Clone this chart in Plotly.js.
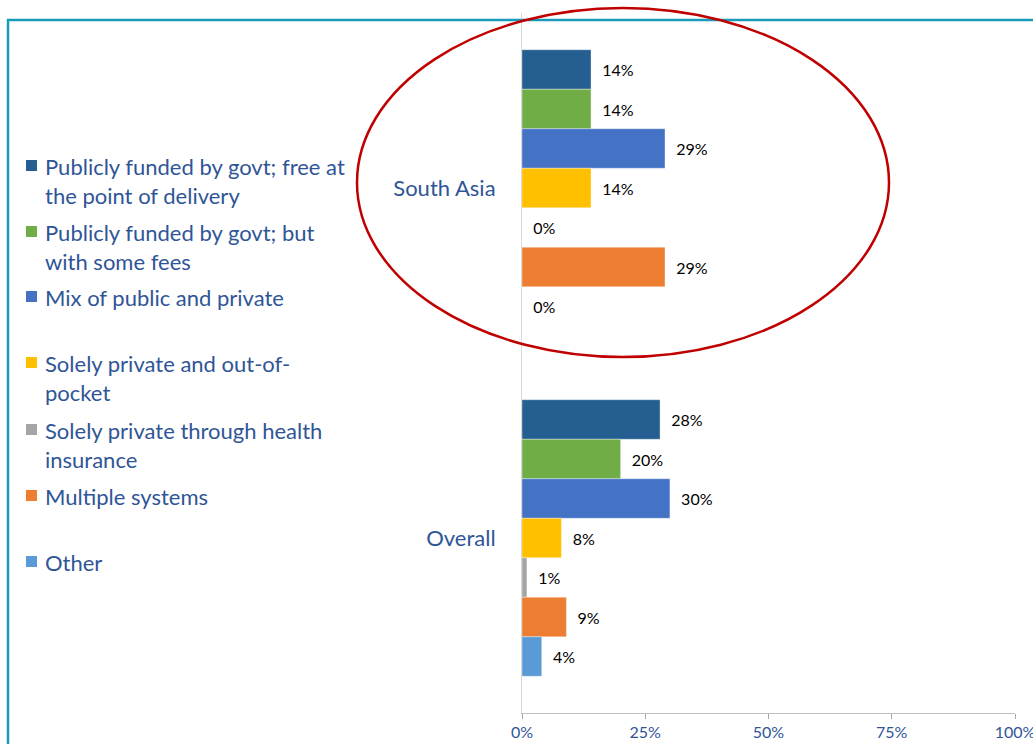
<!DOCTYPE html>
<html>
<head>
<meta charset="utf-8">
<script src="https://cdn.plot.ly/plotly-3.0.1.min.js"></script>
<style>html,body{margin:0;padding:0;background:#fff;}#chart{width:1033px;height:744px;}</style>
</head>
<body>
<div id="chart"></div>
<script>
// ---- data ----
var categories = ["South Asia", "Overall"];
var seriesNames = [
  "Publicly funded by govt; free at<br>the point of delivery",
  "Publicly funded by govt; but<br>with some fees",
  "Mix of public and private",
  "Solely private and out-of-<br>pocket",
  "Solely private through health<br>insurance",
  "Multiple systems",
  "Other"
];
var southAsia = [14, 14, 29, 14, 0, 29, 0];
var overall   = [28, 20, 30, 8, 1, 9, 4];
var seriesColors = ["#255E91", "#70AD47", "#4472C4", "#FFC000", "#A5A5A5", "#ED7D31", "#5B9BD5"];
var xTickVals = [0, 0.25, 0.5, 0.75, 1];
var xTickText = ["0%", "25%", "50%", "75%", "100%"];

// ---- layout helpers (pixel -> paper) ----
var W = 1033, H = 744;
var L = 522, R = 1015, T = 13, B = 713;
function px(x) { return (x - L) / (R - L); }
function py(y) { return (B - y) / (B - T); }

var FONT = "Lato, 'Open Sans', sans-serif";
var BLUE_TXT = "#2F5597";

var traces = seriesNames.map(function (name, i) {
  var vals = [southAsia[i], overall[i]];
  return {
    type: "bar",
    orientation: "h",
    name: name,
    y: categories,
    x: vals.map(function (v) { return v / 100; }),
    text: vals.map(function (v) { return "\u00a0\u00a0" + v + "%"; }),
    textposition: "outside",
    textfont: { family: FONT, size: 16, color: "#000" },
    cliponaxis: false,
    marker: { color: seriesColors[i], line: { color: "rgba(255,255,255,0.35)", width: 1 } },
    hoverinfo: "skip",
    showlegend: false
  };
});

// legend drawn as annotations + squares
var legendFirstLineY = [167, 233, 298, 364, 431, 497, 563];
var annotations = [];
var shapes = [];
seriesNames.forEach(function (name, i) {
  var yc = legendFirstLineY[i];
  annotations.push({
    xref: "paper", yref: "paper",
    x: px(43), y: py(yc - 16),
    xanchor: "left", yanchor: "top", align: "left",
    showarrow: false,
    text: name,
    font: { family: FONT, size: 22, color: BLUE_TXT }
  });
  shapes.push({
    type: "rect", xref: "paper", yref: "paper",
    x0: px(26), x1: px(37), y0: py(yc - 7), y1: py(yc + 4),
    fillcolor: seriesColors[i], line: { width: 0 }
  });
});

// frame lines
shapes.push({ type: "line", xref: "paper", yref: "paper", x0: px(7), x1: px(1040), y0: py(20), y1: py(20), line: { color: "#189BB8", width: 2.5 } });
shapes.push({ type: "line", xref: "paper", yref: "paper", x0: px(8), x1: px(8), y0: py(19), y1: py(750), line: { color: "#189BB8", width: 2.5 } });
// highlight ellipse
shapes.push({ type: "circle", xref: "paper", yref: "paper", x0: px(357), x1: px(889), y0: py(8), y1: py(357), line: { color: "#C00000", width: 2.5 }, layer: "above" });

var layout = {
  width: W, height: H,
  margin: { l: L, r: W - R, t: T, b: H - B, pad: 0 },
  paper_bgcolor: "#fff", plot_bgcolor: "#fff",
  barmode: "group",
  bargap: 0.21,
  bargroupgap: 0,
  showlegend: false,
  font: { family: FONT },
  xaxis: {
    range: [0, 1],
    tickvals: xTickVals, ticktext: xTickText,
    showgrid: false, zeroline: false,
    showline: true, linecolor: "#BFBFBF", linewidth: 1,
    ticks: "outside", ticklen: 5, tickcolor: "#A6A6A6",
    ticklabeloverflow: "allow",
    tickfont: { family: FONT, size: 16, color: BLUE_TXT },
    fixedrange: true
  },
  yaxis: {
    type: "category",
    categoryarray: categories, categoryorder: "array",
    autorange: "reversed",
    showgrid: false, zeroline: false,
    showline: true, linecolor: "#D9D9D9", linewidth: 1,
    ticks: "", ticklabelstandoff: 21,
    tickfont: { family: FONT, size: 22, color: BLUE_TXT },
    fixedrange: true
  },
  annotations: annotations,
  shapes: shapes
};

Plotly.newPlot("chart", traces, layout, { displayModeBar: false, staticPlot: true });
</script>
</body>
</html>
